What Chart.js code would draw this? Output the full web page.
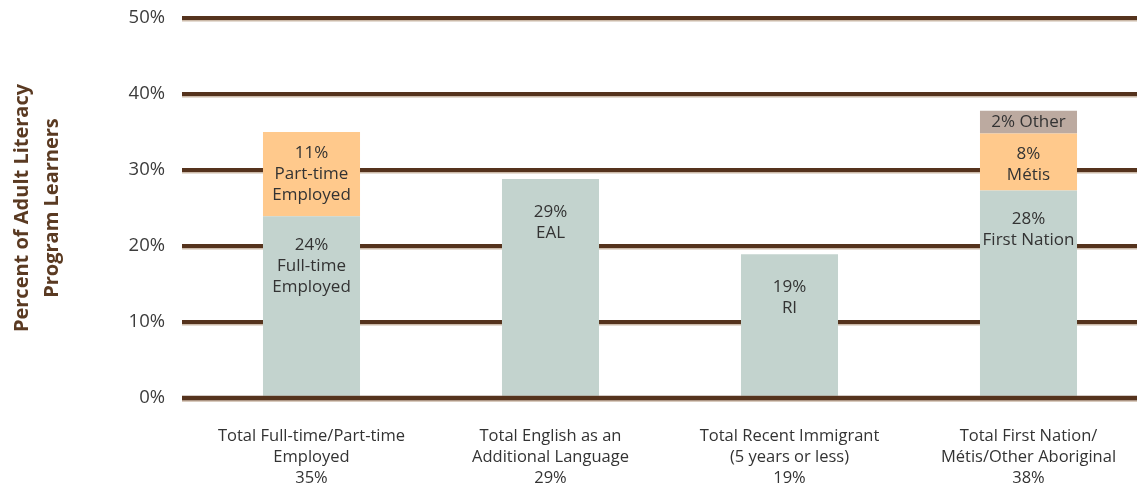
<!DOCTYPE html>
<html>
<head>
<meta charset="utf-8">
<script src="https://cdn.jsdelivr.net/npm/chart.js@4/dist/chart.umd.min.js"></script>
<style>
  html, body { margin: 0; padding: 0; background: #fff; overflow: hidden; }
  #wrap { width: 1137px; height: 491px; overflow: hidden; }
</style>
</head>
<body>
<div id="wrap"><canvas id="c" width="1148" height="491"></canvas></div>
<script>
// ---- Data ----
const categories = [
  ["Total Full-time/Part-time", "Employed", "35%"],
  ["Total English as an", "Additional Language", "29%"],
  ["Total Recent Immigrant", "(5 years or less)", "19%"],
  ["Total First Nation/", "Métis/Other Aboriginal", "38%"]
];
const baseValues   = [23.9, 28.8, 18.9, 27.3];
const middleValues = [11.1, 0, 0, 7.5];
const topValues    = [0, 0, 0, 3.0];
const baseLabels   = [["24%", "Full-time", "Employed"], ["29%", "EAL"], ["19%", "RI"], ["28%", "First Nation"]];
const middleLabels = [["11%", "Part-time", "Employed"], null, null, ["8%", "Métis"]];
const topLabels    = [null, null, null, ["2% Other"]];
const yTicks = [0, 10, 20, 30, 40, 50];

const FONT = "'Open Sans', 'DejaVu Sans', sans-serif";
const GRID = '#55331d';
const SHADOW = '#cbb9a8';

const segLabelPlugin = {
  id: 'segLabels',
  beforeDatasetsDraw(chart) {
    const ctx = chart.ctx, y = chart.scales.y;
    ctx.save();
    ctx.strokeStyle = SHADOW;
    ctx.lineWidth = 1.5;
    yTicks.forEach(v => {
      const py = y.getPixelForValue(v) + 2.75;
      ctx.beginPath();
      ctx.moveTo(chart.chartArea.left - 10, py);
      ctx.lineTo(chart.width, py);
      ctx.stroke();
    });
    ctx.restore();
  },
  afterDatasetsDraw(chart) {
    const ctx = chart.ctx;
    ctx.save();
    const y0 = chart.scales.y.getPixelForValue(0);
    ctx.strokeStyle = SHADOW; ctx.lineWidth = 1.5;
    ctx.beginPath(); ctx.moveTo(chart.chartArea.left - 10, y0 + 2.75); ctx.lineTo(chart.width, y0 + 2.75); ctx.stroke();
    ctx.strokeStyle = GRID; ctx.lineWidth = 4.5;
    ctx.beginPath(); ctx.moveTo(chart.chartArea.left - 10, y0); ctx.lineTo(chart.width, y0); ctx.stroke();

    ctx.font = "17px " + FONT;
    ctx.fillStyle = '#333333';
    ctx.textAlign = 'center';
    ctx.textBaseline = 'middle';
    const lh = 21;
    chart.data.datasets.forEach((ds, di) => {
      const meta = chart.getDatasetMeta(di);
      meta.data.forEach((bar, i) => {
        const lines = ds.segLabels[i];
        if (!lines) return;
        const top = bar.y, bottom = bar.base;
        const h = bottom - top;
        let startY;
        if (h < lines.length * lh + 10) {
          startY = top + h / 2 - (lines.length - 1) * lh / 2;
        } else {
          startY = top + (di === 0 && chart.data.datasets[1].data[i] === 0 ? 33 : (di === 1 ? 21 : 29));
        }
        lines.forEach((t, k) => ctx.fillText(t, bar.x, startY + k * lh));
      });
    });
    ctx.restore();
  }
};

new Chart(document.getElementById('c'), {
  type: 'bar',
  data: {
    labels: categories,
    datasets: [
      { data: baseValues, backgroundColor: '#c3d3ce', segLabels: baseLabels },
      { data: middleValues, backgroundColor: '#ffc98c', segLabels: middleLabels },
      { data: topValues, backgroundColor: '#bcaaa0', segLabels: topLabels }
    ]
  },
  options: {
    responsive: false,
    animation: false,
    layout: { padding: { top: 18, right: 0, bottom: 0, left: 0 } },
    datasets: { bar: { categoryPercentage: 1, barPercentage: 0.406, borderWidth: 0 } },
    plugins: { legend: { display: false }, tooltip: { enabled: false } },
    scales: {
      x: {
        stacked: true,
        grid: { display: false, drawTicks: false },
        border: { display: false },
        ticks: { color: '#333333', font: { family: FONT, size: 16.5, lineHeight: 1.27 }, padding: 28, maxRotation: 0, autoSkip: false },
        afterFit(s) { s.height = 93; s.paddingLeft = 0; s.paddingRight = 0; }
      },
      y: {
        stacked: true,
        min: 0, max: 50,
        afterBuildTicks(s) { s.ticks = yTicks.map(v => ({ value: v })); },
        grid: { color: GRID, lineWidth: 4.5, drawTicks: true, tickLength: 10 },
        border: { display: false },
        ticks: { color: '#3c3c3c', font: { family: FONT, size: 18.5 }, padding: 17, callback: v => v + '%' },
        title: {
          display: true,
          text: ['Percent of Adult Literacy', 'Program Learners'],
          color: '#5a3a22',
          font: { family: FONT, size: 20, weight: 'bold', lineHeight: 1.5 },
          padding: { top: 7, bottom: 0 }
        },
        afterFit(s) { s.width = 192; s.paddingTop = 0; s.paddingBottom = 0; }
      }
    }
  },
  plugins: [segLabelPlugin]
});
</script>
</body>
</html>
